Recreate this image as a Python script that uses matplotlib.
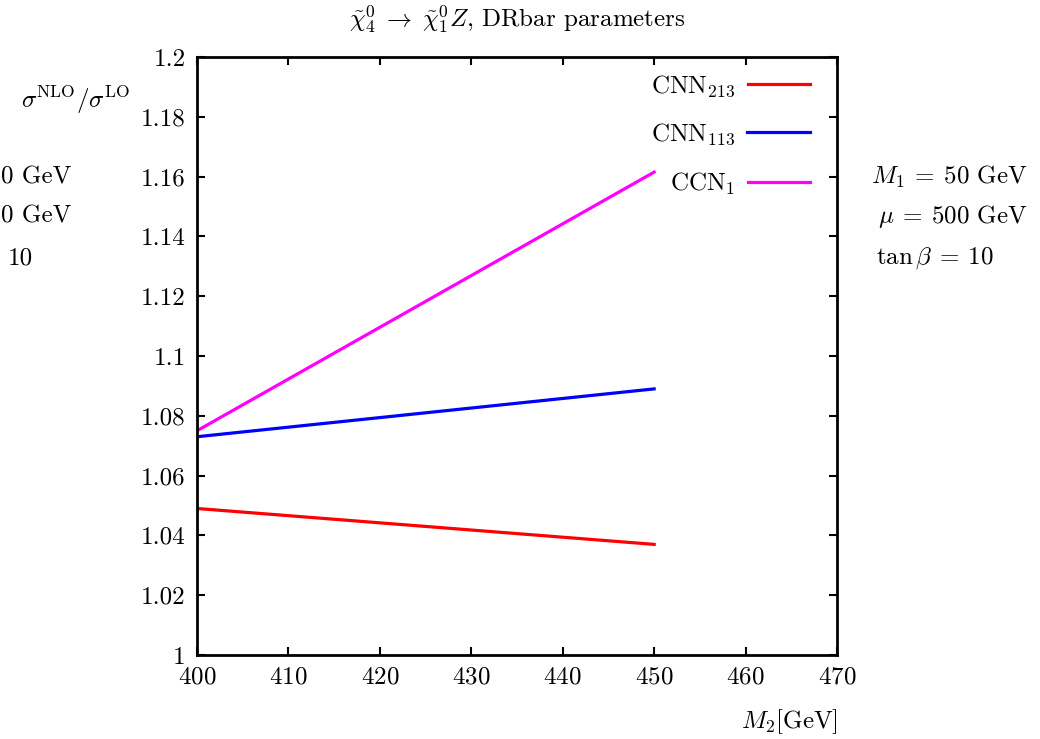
import numpy as np
import matplotlib
matplotlib.use('Agg')
import matplotlib.pyplot as plt
from matplotlib.ticker import FormatStrFormatter

plt.rcParams['font.family'] = ['cmr10']
plt.rcParams['mathtext.fontset'] = 'cm'
plt.rcParams['axes.unicode_minus'] = False
plt.rcParams['axes.formatter.use_mathtext'] = True

# data
m2 = [400, 450]
cnn213 = [1.049, 1.037]
cnn113 = [1.073, 1.089]
ccn1 = [1.075, 1.1615]

labels = [r'$\mathrm{CNN}_{213}$', r'$\mathrm{CNN}_{113}$', r'$\mathrm{CCN}_{1}$']
colors = ['#ff0000', '#0000ff', '#ff00ff']
xticks = [400, 410, 420, 430, 440, 450, 460, 470]
yticks = [1.0, 1.02, 1.04, 1.06, 1.08, 1.1, 1.12, 1.14, 1.16, 1.18, 1.2]
params = [r'$M_1\:=\:50$ GeV', r'$\mu\:=\:500$ GeV', r'$\tan\beta\:=\:10$']
cut_params = ['0 GeV', '0 GeV', '10']  # left copies, only their right ends are on the page

W, H = 1040, 739
fig = plt.figure(figsize=(W/100, H/100), dpi=100)
ax = fig.add_axes([197/W, 1-655/H, (837-197)/W, (655-57)/H])

for y, lab, c in zip([cnn213, cnn113, ccn1], labels, colors):
    ax.plot(m2, y, color=c, lw=2.3, label=lab)

ax.set_xlim(400, 470)
ax.set_ylim(1.0, 1.2)
ax.set_xticks(xticks)
ax.set_yticks(yticks)
ax.yaxis.set_major_formatter(FormatStrFormatter('%g'))
ax.tick_params(direction='in', length=6, width=1.5, top=True, right=True,
               labelsize=18, pad=8)
for s in ax.spines.values():
    s.set_linewidth(2)

ax.legend(loc='upper right', frameon=False, markerfirst=False, fontsize=18,
          handlelength=2.5, handletextpad=0.5, labelspacing=0.93,
          borderaxespad=0, borderpad=0,
          bbox_to_anchor=((810-197)/640, (655-73)/598))

fig.text(517/W, 1-20/H, r'$\tilde{\chi}^0_4 \;\to\; \tilde{\chi}^0_1 Z$, DRbar parameters',
         ha='center', va='center', fontsize=18)
fig.text(130/W, 1-100/H, r'$\sigma^{\mathrm{NLO}}/\sigma^{\mathrm{LO}}$',
         ha='right', va='center', fontsize=18)
fig.text(838/W, 1-722/H, r'$M_2[\mathrm{GeV}]$', ha='right', va='center', fontsize=18)

xs = [871, 878, 876]
ys = [177, 216, 258]
for x, y, t in zip(xs, ys, params):
    fig.text(x/W, 1-y/H, t, ha='left', va='center', fontsize=18)
for xl, y, t in zip([1, 1, 8], ys, cut_params):
    fig.text(xl/W, 1-y/H, t, ha='left', va='center', fontsize=18)

fig.savefig('out.png', dpi=100)
